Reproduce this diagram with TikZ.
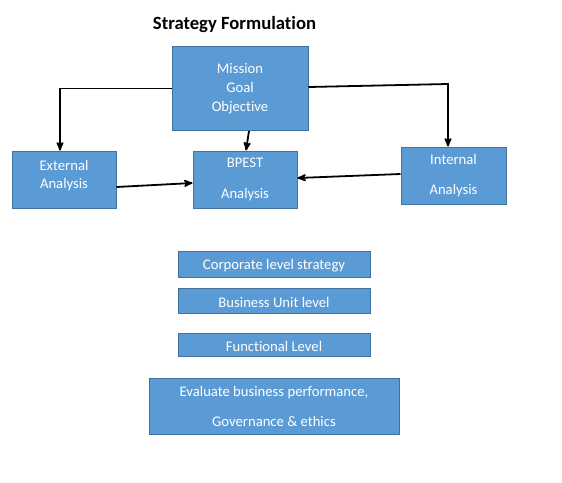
\documentclass[tikz,border=0pt]{standalone}
\usepackage{fontspec}
\setmainfont{Carlito}[Ligatures=NoCommon]
\usetikzlibrary{arrows,positioning}
\definecolor{blockfill}{RGB}{91,155,213}
\definecolor{blockline}{RGB}{65,113,156}

\begin{document}
\begin{tikzpicture}[->,>=stealth',x=1pt,y=-1pt,line width=1.8pt]
\tikzstyle{every node}=[font=\fontsize{14.67}{19}\selectfont]
\tikzstyle{block}=[draw=blockline,fill=blockfill,text=white,align=center,line width=1pt,inner sep=0pt]
\tikzstyle{level}=[block,minimum width=192pt,text height=13.5pt]
\useasboundingbox (0,0) rectangle (562,482);
\node[font=\fontsize{18.67}{22}\selectfont\bfseries] (title) at (234.5,25) {Strategy Formulation};
\node[block,minimum width=136pt,minimum height=84pt] (M) at (240,88.5) {Mission\\Goal\\Objective};
\node[block,minimum width=104pt,minimum height=57pt,text depth=10pt] (ext) at (64,179.5) {External\\[-1pt]Analysis};
\node[block,minimum width=104pt,minimum height=57pt] (bp) at (245,179.5) {BPEST\\[12pt]Analysis};
\node[block,minimum width=105pt,minimum height=57pt] (int) at (453.5,175.5) {Internal\\[11pt]Analysis};
\node[level,minimum height=26pt] (corp) at (274,264) {Corporate level strategy};
\node[level,minimum height=25pt,below=10pt of corp] (bu) {Business Unit level};
\node[level,minimum height=23pt,below=19pt of bu] (fn) {Functional Level};
\node[block,minimum width=250pt,minimum height=56pt,below=21pt of fn] (ev) {Evaluate business performance,\\[11pt]Governance \& ethics};
\coordinate (bend) at (448,84);
\draw ([yshift=1.5pt]M.east) -- (bend) -- ([xshift=-5.5pt]int.north);
\draw (M.west) -| ([xshift=-4pt]ext.north);
\draw ([xshift=9pt]M.south) -- ([xshift=1pt]bp.north);
\draw ([yshift=-7.5pt]ext.east) -- ([yshift=-3.5pt]bp.west);
\draw ([yshift=1.5pt]int.west) -- ([yshift=1.5pt]bp.east);
\end{tikzpicture}
\end{document}
